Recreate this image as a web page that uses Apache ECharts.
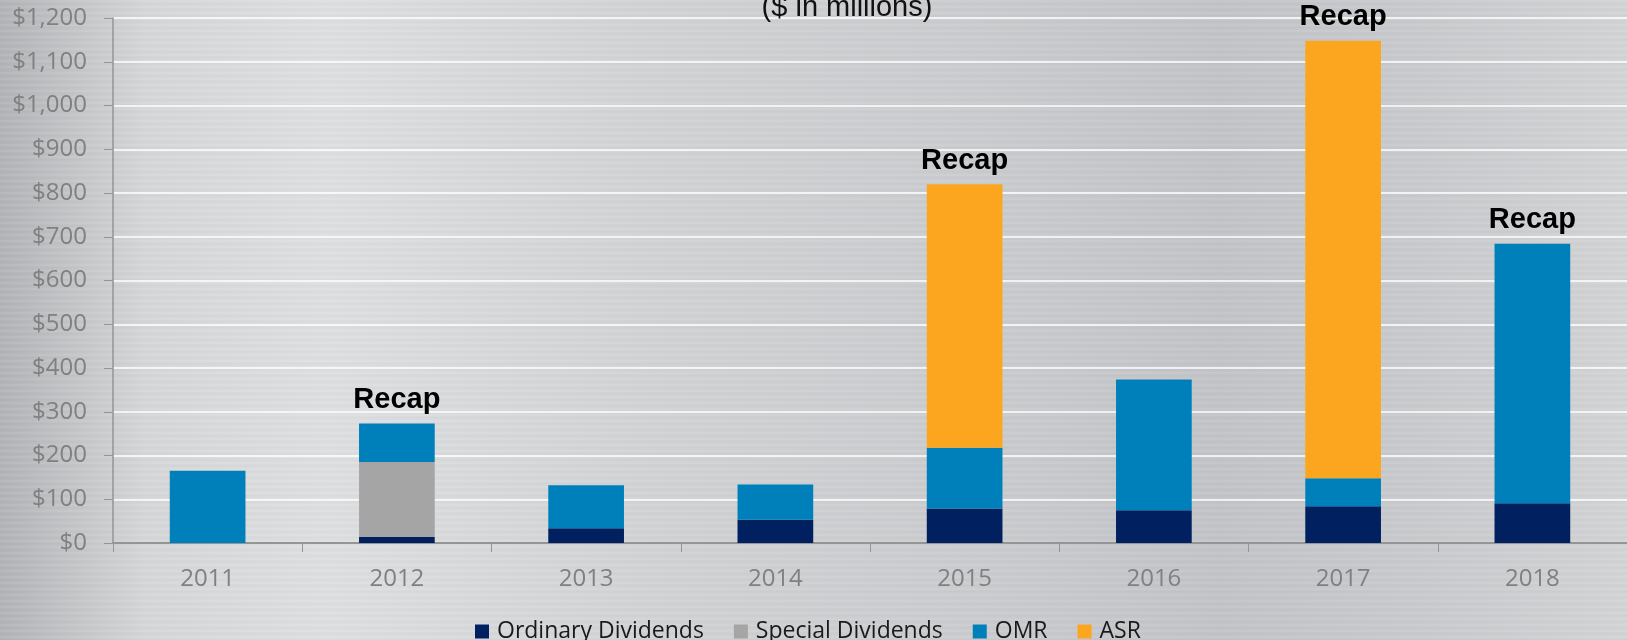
<!DOCTYPE html>
<html>
<head>
<meta charset="utf-8">
<script src="https://cdn.jsdelivr.net/npm/echarts@6/dist/echarts.min.js"></script>
<style>
    html, body { margin: 0; padding: 0; }
    body {
        width: 1627px; height: 640px; overflow: hidden;
        background:
            repeating-linear-gradient(180deg, rgba(255,255,255,0.05) 0px, rgba(255,255,255,0.05) 2px, rgba(0,0,0,0.025) 3px, rgba(0,0,0,0) 6px),
            linear-gradient(90deg, #b3b4b7 0%, #d6d7d9 9%, #dedfe1 20%, #d2d3d5 40%, #cbcccf 60%, #c3c4c7 75%, #cacbce 88%, #d3d4d6 100%);
    }
    #main { width: 1627px; height: 640px; }
</style>
</head>
<body>
<div id="main"></div>
<script>
    // 年份
    var years = ['2011', '2012', '2013', '2014', '2015', '2016', '2017', '2018'];
    // 各项金额 ($ in millions)
    var ordinary_div = [0, 14, 34, 53, 79, 75, 84, 91];
    var special_div = [0, 171, 0, 0, 0, 0, 0, 0];
    var omr = [165, 88, 98, 81, 139, 299, 64, 593];
    var asr = [0, 0, 0, 0, 602, 0, 1000, 0];
    // 柱顶标注
    var recap_flags = ['', 'Recap', '', '', 'Recap', '', 'Recap', 'Recap'];
    var y_ticks = [0, 100, 200, 300, 400, 500, 600, 700, 800, 900, 1000, 1100, 1200];

    var series_names = ['Ordinary Dividends', 'Special Dividends', 'OMR', 'ASR'];
    var series_colors = ['#002060', '#a5a5a5', '#0080bb', '#fca61f'];
    var series_data = [ordinary_div, special_div, omr, asr];

    var axis_font = '"Open Sans", "Noto Sans", sans-serif';

    var chart = echarts.init(document.getElementById('main'), null, {renderer: 'canvas'});

    var series = series_data.map(function (arr, i) {
        return {
            name: series_names[i],
            type: 'bar',
            stack: 'total',
            barWidth: '40%',
            itemStyle: {color: series_colors[i]},
            data: arr,
            z: 3
        };
    });
    // 透明零值柱, 只用来放 Recap 标签
    series.push({
        name: 'recap',
        type: 'bar',
        stack: 'total',
        barWidth: '40%',
        data: recap_flags.map(function () { return 0; }),
        itemStyle: {color: 'rgba(0,0,0,0)'},
        label: {
            show: true,
            position: 'top',
            distance: 9,
            formatter: function (p) { return recap_flags[p.dataIndex]; },
            fontFamily: '"Liberation Sans", Arial, sans-serif',
            fontWeight: 'bold',
            fontSize: 29,
            color: '#000'
        },
        z: 4
    });

    var option = {
        animation: false,
        backgroundColor: 'transparent',
        grid: {left: 113, right: 0, top: 18, bottom: 97, containLabel: false},
        legend: {
            data: series_names,
            left: 470,
            top: 615,
            icon: 'rect',
            itemWidth: 14,
            itemHeight: 14,
            itemGap: 30,
            textStyle: {fontFamily: axis_font, fontSize: 23, color: '#1a1a1a', padding: [0, 0, 0, 3]}
        },
        graphic: [{
            type: 'text',
            x: 847,
            y: 8,
            style: {
                text: '($ in millions)',
                font: '29px "Liberation Sans", Arial, sans-serif',
                fill: '#111',
                align: 'center',
                verticalAlign: 'middle'
            },
            z: 10
        }],
        xAxis: {
            type: 'category',
            data: years,
            axisLine: {lineStyle: {color: '#959595', width: 2}},
            axisTick: {show: true, length: 9, lineStyle: {color: '#959595', width: 1}},
            axisLabel: {fontFamily: axis_font, fontSize: 24, color: '#808080', margin: 24},
            splitLine: {show: false}
        },
        yAxis: {
            type: 'value',
            min: y_ticks[0],
            max: y_ticks[y_ticks.length - 1],
            interval: 100,
            axisLine: {show: true, lineStyle: {color: '#959595', width: 1.5}},
            axisTick: {show: true, length: 9, lineStyle: {color: '#959595', width: 1}},
            axisLabel: {
                fontFamily: axis_font, fontSize: 24, color: '#808080', margin: 26,
                formatter: function (v) { return '$' + v.toLocaleString('en-US'); }
            },
            splitLine: {lineStyle: {color: '#ffffff', width: 1.5}}
        },
        series: series
    };

    chart.setOption(option);
</script>
</body>
</html>
